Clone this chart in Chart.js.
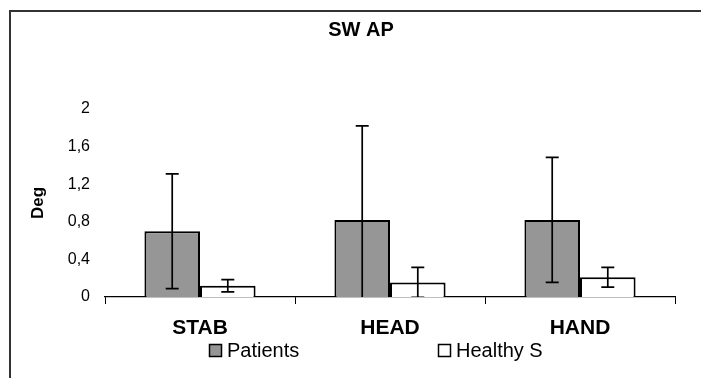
<!DOCTYPE html>
<html lang="en">
<head>
    <meta charset="UTF-8">
    <title>SW AP</title>
    <style>
        body { margin: 0; background: #fff; }
        #wrap { width: 701px; height: 378px; }
    </style>
</head>
<body>
    <div id="wrap">
        <canvas id="myChart" width="701" height="378"></canvas>
    </div>
</body>
</html>
<script src="https://cdn.jsdelivr.net/npm/chart.js"></script>

<script>

    var categorias = ['STAB', 'HEAD', 'HAND'];
    var pacientes = [0.70, 0.82, 0.82];
    var saudaveis = [0.12, 0.155, 0.21];
    var errPacientes = [0.61, 1.0, 0.665];
    var errSaudaveis = [0.065, 0.16, 0.105];
    var yTickValues = [0, 0.4, 0.8, 1.2, 1.6, 2];
    var yTickLabels = ['0', '0,4', '0,8', '1,2', '1,6', '2'];

    // frame of the original picture (left + top edge only)
    const moldura = {
        id: 'moldura',
        beforeDraw(chart) {
            const c = chart.ctx;
            c.save();
            c.fillStyle = '#fff';
            c.fillRect(0, 0, chart.width, chart.height);
            c.strokeStyle = '#333';
            c.lineWidth = 2;
            c.beginPath();
            c.moveTo(10, chart.height);
            c.lineTo(10, 11);
            c.lineTo(chart.width, 11);
            c.stroke();
            c.restore();
        }
    };

    // error bars from the err arrays
    const barrasErro = {
        id: 'barrasErro',
        afterDatasetsDraw(chart) {
            const c = chart.ctx;
            const y = chart.scales.y;
            const area = chart.chartArea;
            const erros = [errPacientes, errSaudaveis];
            c.save();
            c.beginPath();
            c.rect(area.left, area.top - 20, area.right - area.left, area.bottom - area.top + 20);
            c.clip();
            c.strokeStyle = '#000';
            c.lineWidth = 1.7;
            chart.data.datasets.forEach(function (ds, i) {
                chart.getDatasetMeta(i).data.forEach(function (bar, j) {
                    const v = ds.data[j];
                    const hi = y.getPixelForValue(v + erros[i][j]);
                    const lo = y.getPixelForValue(v - erros[i][j]);
                    c.beginPath();
                    c.moveTo(bar.x, hi);
                    c.lineTo(bar.x, lo);
                    c.moveTo(bar.x - 6.5, hi);
                    c.lineTo(bar.x + 6.5, hi);
                    c.moveTo(bar.x - 6.5, lo);
                    c.lineTo(bar.x + 6.5, lo);
                    c.stroke();
                });
            });
            c.restore();
        }
    };

    // legend spread out like the original
    const legenda = {
        id: 'legenda',
        afterDraw(chart) {
            const c = chart.ctx;
            const posX = [209, 438];
            const yc = 350;
            c.save();
            c.font = '20px Arial, "Liberation Sans"';
            c.textBaseline = 'middle';
            chart.data.datasets.forEach(function (ds, i) {
                c.fillStyle = ds.backgroundColor;
                c.fillRect(posX[i], yc - 6, 13, 13);
                c.strokeStyle = '#000';
                c.lineWidth = 1.5;
                c.strokeRect(posX[i] + 0.5, yc - 5.5, 12, 12);
                c.fillStyle = '#000';
                c.fillText(ds.label, posX[i] + 18, yc + 1);
            });
            c.restore();
        }
    };

    function criarGrafico() {
        const ctx = document.getElementById('myChart');

        new Chart(ctx, {
            type: 'bar',
            data: {
                labels: categorias,
                datasets: [{
                    label: 'Patients',
                    data: pacientes,
                    backgroundColor: '#969696',
                    borderColor: '#000',
                    borderWidth: 2
                }, {
                    label: 'Healthy S',
                    data: saudaveis,
                    backgroundColor: '#ffffff',
                    borderColor: '#000',
                    borderWidth: 2
                }]
            },
            plugins: [moldura, barrasErro, legenda],
            options: {
                responsive: false,
                animation: false,
                layout: {
                    padding: { left: 47, top: 12, right: 26, bottom: 36 }
                },
                datasets: {
                    bar: { categoryPercentage: 0.585, barPercentage: 1.0 }
                },
                plugins: {
                    legend: { display: false },
                    tooltip: { enabled: false },
                    title: {
                        display: true,
                        text: 'SW AP',
                        color: '#000',
                        font: { family: 'Arial, "Liberation Sans"', size: 20, weight: 'bold' },
                        padding: { top: 6, bottom: 67 }
                    }
                },
                scales: {
                    x: {
                        afterFit: function (scale) { scale.height = 45; },
                        grid: {
                            display: true,
                            offset: true,
                            drawOnChartArea: false,
                            drawTicks: true,
                            tickLength: 7,
                            color: '#000'
                        },
                        border: { display: true, color: '#000', width: 1.2 },
                        ticks: {
                            color: '#000',
                            padding: 12,
                            font: { family: 'Arial, "Liberation Sans"', size: 21, weight: 'bold' }
                        }
                    },
                    y: {
                        min: 0,
                        max: 2,
                        afterFit: function (scale) { scale.width = 58; },
                        afterBuildTicks: function (scale) {
                            scale.ticks = yTickValues.map(function (v) { return { value: v }; });
                        },
                        grid: { display: false, drawTicks: false },
                        border: { display: false },
                        ticks: {
                            color: '#000',
                            padding: 15,
                            font: { family: 'Arial, "Liberation Sans"', size: 16 },
                            callback: function (value, index) { return yTickLabels[index]; }
                        },
                        title: {
                            display: true,
                            text: 'Deg',
                            color: '#000',
                            padding: { top: -19, bottom: 0 },
                            font: { family: 'Arial, "Liberation Sans"', size: 17, weight: 'bold' }
                        }
                    }
                }
            }
        });
    }

    criarGrafico()
</script>
